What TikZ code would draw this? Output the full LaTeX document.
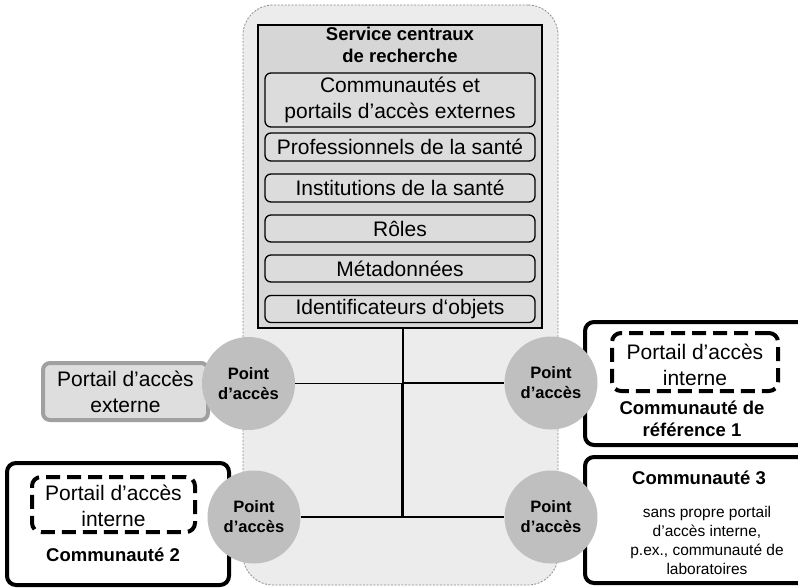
\documentclass[tikz,border=0pt]{standalone}
\usepackage{fontspec}
\setmainfont{Liberation Sans}
\definecolor{bgfill}{HTML}{ECECEC}
\definecolor{centralfill}{HTML}{D6D6D6}
\definecolor{itemfill}{HTML}{DCDCDC}
\definecolor{circfill}{HTML}{BFBFBF}
\definecolor{extborder}{HTML}{A0A0A0}
\definecolor{extfill}{HTML}{DEDEDE}
\definecolor{dotgray}{HTML}{8A8A8A}
\begin{document}
\begin{tikzpicture}[x=1pt,y=-1pt,
  itembox/.style={draw=black, line width=1.3pt, rounded corners=6pt, fill=itemfill,
    minimum width=270pt, inner sep=0pt, align=center,
    font=\fontsize{21}{26}\selectfont},
  accpt/.style={circle, fill=circfill, minimum size=93pt, inner sep=0pt, align=center,
    font=\fontsize{16.5}{20}\selectfont\bfseries},
  commbox/.style={draw=black, line width=4pt, rounded corners=9pt, fill=white, inner sep=0pt},
  dashbox/.style={draw=black, line width=4pt, dash pattern=on 14pt off 7pt, rounded corners=9pt,
    inner sep=0pt},
  regtext/.style={align=center, inner sep=0pt, font=\fontsize{21}{26}\selectfont},
  boldtext/.style={align=center, inner sep=0pt, font=\fontsize{18.5}{22}\selectfont\bfseries},
  smalltext/.style={align=center, inner sep=0pt, font=\fontsize{15.5}{19}\selectfont},
  link/.style={draw=black, line width=1.3pt}
]
\useasboundingbox (0,0) rectangle (798,587);
\clip (0,0) rectangle (798,587);

% background area
\node[draw=dotgray, line width=0.8pt, dash pattern=on 2pt off 1.5pt, rounded corners=30pt,
  fill=bgfill, minimum width=315pt, minimum height=580pt, inner sep=0pt] (bg) at (400.5,295) {};

% central services
\node[draw=black, line width=1.6pt, fill=centralfill, minimum width=284pt, minimum height=303pt,
  inner sep=0pt] (central) at (400,176.5) {};
\node[boldtext] (title) at (400,45) {Service centraux\\de recherche};
\node[itembox, minimum height=54pt] (b1) at (400,100) {Communautés et\\portails d’accès externes};
\node[itembox, minimum height=28pt] (b2) at (400,147) {Professionnels de la santé};
\node[itembox, minimum height=28pt] (b3) at (400,188) {Institutions de la santé};
\node[itembox, minimum height=27pt] (b4) at (400,228.5) {Rôles};
\node[itembox, minimum height=27pt] (b5) at (400,268.5) {Métadonnées};
\node[itembox, minimum height=27pt] (b6) at (400,309) {Identificateurs d‘objets};

% external portal
\node[draw=extborder, line width=4pt, rounded corners=7pt, fill=extfill,
  minimum width=165pt, minimum height=57pt, inner sep=0pt] (ext) at (125.5,391.5) {};
\node[regtext] (extt) at (125.5,392) {Portail d’accès\\externe};

% community 2
\node[commbox, minimum width=222pt, minimum height=122pt] (c2) at (118,524) {};
\node[dashbox, minimum width=163pt, minimum height=55pt] (c2p) at (113.5,504.5) {};
\node[regtext] (c2pt) at (113.5,506) {Portail d’accès\\interne};
\node[boldtext] (c2t) at (113,555) {Communauté 2};

% reference community 1
\node[commbox, minimum width=230pt, minimum height=123pt] (c1) at (700,383.5) {};
\node[dashbox, minimum width=166pt, minimum height=58pt] (c1p) at (695,362) {};
\node[regtext] (c1pt) at (695,365) {Portail d’accès\\interne};
\node[boldtext] (c1t) at (692,419) {Communauté de\\référence 1};

% community 3
\node[commbox, minimum width=230pt, minimum height=126pt] (c3) at (700,520) {};
\node[boldtext] (c3t) at (699,478) {Communauté 3};
\node[smalltext] (c3d) at (707,540) {sans propre portail\\d’accès interne,\\p.ex., communauté de\\laboratoires};

% junctions
\coordinate (j1) at (403,383);
\coordinate (j2) at (401.5,517);

% access points
\node[accpt] (ul) at (248.5,383.5) {Point\\d’accès};
\node[accpt] (ur) at (551,383) {Point\\d’accès};
\node[accpt] (ll) at (254,517) {Point\\d’accès};
\node[accpt] (lr) at (551,517) {Point\\d’accès};

% connectors
\draw[link] (central.south -| j1) -- (j1) -- (ur.west);
\draw[link] (ul.east) -- (ul.east -| j2) -- (j2);
\draw[link] (j1) -- (j1 |- j2);
\draw[link] (ll.east) -- (lr.west);
\end{tikzpicture}
\end{document}
